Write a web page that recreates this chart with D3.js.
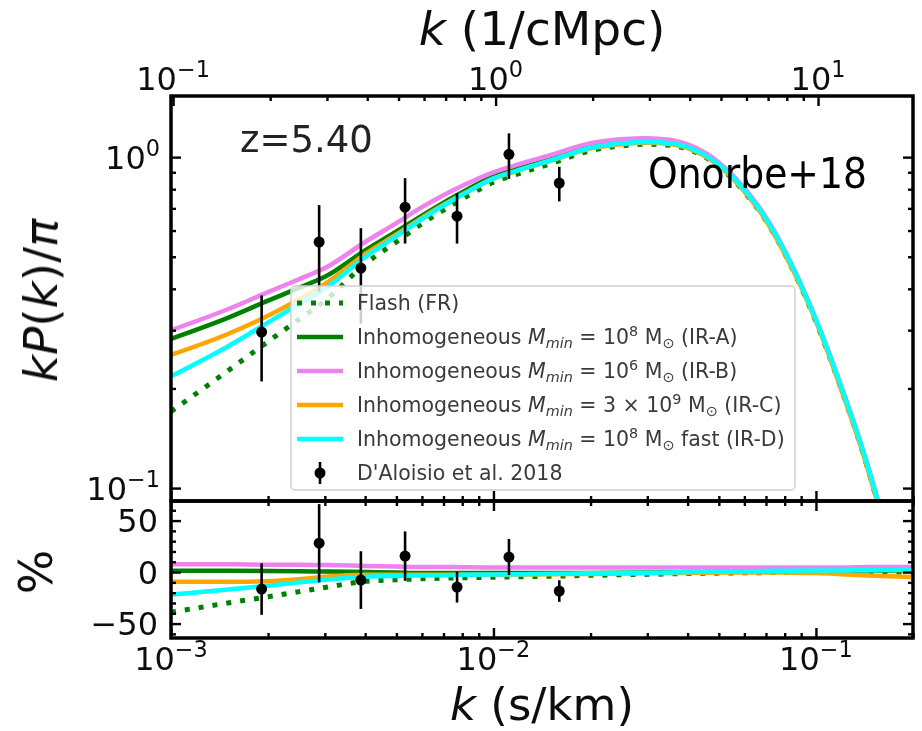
<!DOCTYPE html>
<html>
<head>
<meta charset="utf-8">
<script src="https://cdn.jsdelivr.net/npm/d3@7"></script>
<style>
  html, body { margin: 0; padding: 0; background: #fff; }
  svg { display: block; }
  text { font-family: "DejaVu Sans", sans-serif; }
</style>
</head>
<body>
<div id="chart"></div>
<script>
// Wavenumber grid (s/km) on which the model curves are tabulated
const kGrid = [1e-3, 1.5e-3, 2e-3, 2.5e-3, 3e-3, 4e-3, 5e-3, 6e-3, 7e-3, 8e-3,
  1e-2, 1.2e-2, 1.5e-2, 2e-2, 2.5e-2, 3e-2, 3.5e-2, 4e-2, 5e-2, 6e-2,
  7e-2, 8e-2, 0.1, 0.12, 0.14, 0.16, 0.18, 0.2];

// kP(k)/pi for each reionization model
const kpFR  = [0.1703, 0.226, 0.2772, 0.324, 0.3677, 0.4756, 0.5541, 0.6287, 0.692, 0.7475,
  0.8392, 0.8916, 0.9538, 1.0461, 1.0816, 1.0936, 1.0868, 1.0568, 0.9367, 0.7841,
  0.6424, 0.5117, 0.318, 0.1982, 0.1273, 0.0818, 0.0544, 0.0379];
const kpIRA = [0.2824, 0.3267, 0.3683, 0.4032, 0.4348, 0.5226, 0.596, 0.6657, 0.7288, 0.7831,
  0.8746, 0.9244, 0.9836, 1.0719, 1.1038, 1.1138, 1.1044, 1.0728, 0.949, 0.7936,
  0.6507, 0.5183, 0.3218, 0.2009, 0.1292, 0.0831, 0.0553, 0.0385];
const kpIRB = [0.300, 0.347, 0.391, 0.428, 0.462, 0.554, 0.632, 0.706, 0.767, 0.819,
  0.900, 0.952, 1.013, 1.101, 1.132, 1.140, 1.128, 1.093, 0.964, 0.805,
  0.658, 0.523, 0.324, 0.202, 0.130, 0.0837, 0.0558, 0.0388];
const kpIRC = [0.2526, 0.2921, 0.3319, 0.372, 0.4131, 0.5095, 0.584, 0.6556, 0.7178, 0.7712,
  0.8612, 0.9121, 0.9736, 1.0611, 1.0938, 1.1048, 1.0955, 1.0642, 0.9414, 0.7873,
  0.6437, 0.5107, 0.3195, 0.1973, 0.127, 0.0816, 0.0545, 0.0379];
const kpIRD = [0.2177, 0.2679, 0.3166, 0.36, 0.4002, 0.4991, 0.5768, 0.6502, 0.7141, 0.7696,
  0.863, 0.915, 0.9767, 1.0677, 1.1016, 1.1116, 1.1033, 1.0728, 0.9499, 0.796,
  0.6527, 0.5198, 0.3227, 0.2013, 0.1296, 0.0833, 0.0556, 0.0387];

// Percent difference of each model (lower panel)
const pctFR  = [-39, -30, -24, -19, -15, -9, -7.5, -6.5, -6, -5.5, -5, -4.5, -4, -3.2, -2.6,
  -2.2, -1.8, -1.5, -1, -0.7, -0.5, -0.3, 0, 0, 0, 0, 0, 0];
const pctIRA = [1.2, 1.2, 1.0, 0.8, 0.5, 0, -0.5, -1, -1, -1, -1, -1, -1, -0.8, -0.6,
  -0.4, -0.2, 0, 0.3, 0.5, 0.8, 1, 1.2, 1.4, 1.5, 1.6, 1.6, 1.5];
const pctIRB = [7.5, 7.5, 7.2, 7, 6.8, 6, 5.5, 5, 5, 4.8, 4.5, 4.5, 4.5, 4.5, 4.5,
  4.5, 4.5, 4.5, 4.5, 4.5, 4.5, 4.5, 4.5, 4.5, 4.8, 5, 5, 5];
const pctIRC = [-9.5, -9.5, -9, -7, -4.5, -2.5, -2.5, -2.5, -2.5, -2.5, -2.5, -2.3, -2, -1.8, -1.5,
  -1.2, -1, -0.8, -0.5, -0.3, -0.3, -0.5, -1, -2, -3, -3.8, -4.3, -5];
const pctIRD = [-22, -17, -13.2, -10, -7.5, -4.5, -3.7, -3.3, -3, -2.7, -2.3, -2, -1.7, -1.2, -0.8,
  -0.6, -0.3, 0, 0.4, 0.8, 1.1, 1.3, 1.5, 1.6, 1.8, 1.9, 2, 2];

// D'Aloisio et al. 2018 measurements
const obsK      = [1.91e-3, 2.88e-3, 3.88e-3, 5.32e-3, 7.71e-3, 1.117e-2, 1.60e-2];
const obsKP     = [0.296, 0.554, 0.462, 0.706, 0.663, 1.02, 0.835];
const obsErr    = [0.086, 0.162, 0.148, 0.158, 0.115, 0.16, 0.10];
const obsPct    = [-16.5, 28, -7.8, 15.5, -14.6, 14.6, -18.4];
const obsPctErr = [25, 38, 28, 24, 15, 17.5, 10.5];

// Axis tick labels
const bottomTickLabels = [[1e-3, "−3"], [1e-2, "−2"], [1e-1, "−1"]];
const topTickLabels    = [[1e-1, "−1"], [1e0, "0"], [1e1, "1"]];
const leftTickLabels   = [[1e0, "0"], [1e-1, "−1"]];
const pctTickLabels    = [[50, "50"], [0, "0"], [-50, "−50"]];

const series = [
  { name: "Flash (FR)", kp: kpFR, pct: pctFR, color: "green", dash: "5,9" },
  { name: "IR-A", mass: ["10", "8", ""], kp: kpIRA, pct: pctIRA, color: "green" },
  { name: "IR-B", mass: ["10", "6", ""], kp: kpIRB, pct: pctIRB, color: "violet" },
  { name: "IR-C", mass: ["3 × 10", "9", ""], kp: kpIRC, pct: pctIRC, color: "orange" },
  { name: "IR-D", mass: ["10", "8", " fast"], kp: kpIRD, pct: pctIRD, color: "cyan" }
];

const W = 922, H = 731;
const L = 171, R = 913, T = 96, MID = 501, B = 638;

const svg = d3.select("#chart").append("svg").attr("width", W).attr("height", H);
const defs = svg.append("defs");
defs.append("filter").attr("id", "soft").attr("x", "-5%").attr("y", "-5%").attr("width", "110%").attr("height", "110%")
  .append("feGaussianBlur").attr("stdDeviation", 0.75);
defs.append("clipPath").attr("id", "clipMain").append("rect")
  .attr("x", L).attr("y", T).attr("width", R - L).attr("height", MID - T);
defs.append("clipPath").attr("id", "clipLow").append("rect")
  .attr("x", L).attr("y", MID).attr("width", R - L).attr("height", B - MID);

const xB = d3.scaleLog().domain([1e-3, 0.2]).range([L, R]);
const xT = d3.scaleLog().domain([0.0985, 19.7]).range([L, R]);
const yM = d3.scaleLog().domain([0.0914, 1.53]).range([MID, T]);
const yL = d3.scaleLinear().domain([-64, 69]).range([B, MID]);

const fig = svg.append("g").attr("filter", "url(#soft)");

// ---- model curves ----
const lineMain = d3.line().x(d => xB(d[0])).y(d => yM(d[1])).curve(d3.curveMonotoneX);
const lineLow = d3.line().x(d => xB(d[0])).y(d => yL(d[1])).curve(d3.curveMonotoneX);
const gMain = fig.append("g").attr("clip-path", "url(#clipMain)");
const gLow = fig.append("g").attr("clip-path", "url(#clipLow)");

series.forEach(s => {
  const top = kGrid.map((k, i) => [k, s.kp[i]]);
  const low = kGrid.map((k, i) => [k, s.pct[i]]);
  [[gMain, lineMain, top], [gLow, lineLow, low]].forEach(([g, ln, d]) => {
    g.append("path").attr("d", ln(d)).attr("fill", "none")
      .attr("stroke", s.color).attr("stroke-width", s.dash ? 5 : 4.5)
      .attr("stroke-dasharray", s.dash || null)
      .attr("stroke-linejoin", "round");
  });
});

// ---- measurements ----
function drawPoints(g, xs, ys, es, y) {
  xs.forEach((k, i) => {
    g.append("line").attr("x1", xB(k)).attr("x2", xB(k))
      .attr("y1", y(ys[i] - es[i])).attr("y2", y(ys[i] + es[i]))
      .attr("stroke", "#000").attr("stroke-width", 2.6);
    g.append("circle").attr("cx", xB(k)).attr("cy", y(ys[i])).attr("r", 5.5).attr("fill", "#000");
  });
}
drawPoints(gMain, obsK, obsKP, obsErr, yM);
drawPoints(gLow, obsK, obsPct, obsPctErr, yL);

// ---- ticks ----
function splitLog(scale) {
  const t = scale.ticks();
  const isMajor = v => Math.abs(Math.log10(v) - Math.round(Math.log10(v))) < 1e-6;
  return { major: t.filter(isMajor), minor: t.filter(v => !isMajor(v)) };
}
function tickSet(axisFn, scale, transform, values, size) {
  const g = fig.append("g").attr("transform", transform)
    .call(axisFn(scale).tickValues(values).tickSize(size).tickFormat(""));
  g.select(".domain").remove();
  g.selectAll(".tick line").attr("stroke", "#000").attr("stroke-width", 2.4);
}
const bx = splitLog(xB), tx = splitLog(xT), ly = splitLog(yM);
const lowMajor = [-50, 0, 50];
const lowMinor = d3.range(-60, 70, 10).filter(v => !lowMajor.includes(v));

// main panel
tickSet(d3.axisTop, xT, `translate(0,${T})`, tx.major, -10);
tickSet(d3.axisTop, xT, `translate(0,${T})`, tx.minor, -5);
tickSet(d3.axisBottom, xB, `translate(0,${MID})`, bx.major, -10);
tickSet(d3.axisBottom, xB, `translate(0,${MID})`, bx.minor, -5);
tickSet(d3.axisLeft, yM, `translate(${L},0)`, ly.major, -10);
tickSet(d3.axisLeft, yM, `translate(${L},0)`, ly.minor, -5);
tickSet(d3.axisRight, yM, `translate(${R},0)`, ly.major, -10);
tickSet(d3.axisRight, yM, `translate(${R},0)`, ly.minor, -5);
// ratio panel
tickSet(d3.axisTop, xB, `translate(0,${MID})`, bx.major, -10);
tickSet(d3.axisTop, xB, `translate(0,${MID})`, bx.minor, -5);
tickSet(d3.axisBottom, xB, `translate(0,${B})`, bx.major, -10);
tickSet(d3.axisBottom, xB, `translate(0,${B})`, bx.minor, -5);
tickSet(d3.axisLeft, yL, `translate(${L},0)`, lowMajor, -10);
tickSet(d3.axisLeft, yL, `translate(${L},0)`, lowMinor, -5);
tickSet(d3.axisRight, yL, `translate(${R},0)`, lowMajor, -10);
tickSet(d3.axisRight, yL, `translate(${R},0)`, lowMinor, -5);

// frames
[[T, MID], [MID, B]].forEach(([a, b]) => {
  fig.append("rect").attr("x", L).attr("y", a).attr("width", R - L).attr("height", b - a)
    .attr("fill", "none").attr("stroke", "#000").attr("stroke-width", 3.5);
});

// ---- tick labels ----
const TF = 32;
function powLabel(x, y, exp, anchor) {
  const t = fig.append("text").attr("x", x).attr("y", y).attr("font-size", TF)
    .attr("text-anchor", anchor).attr("fill", "#111");
  t.append("tspan").text("10");
  t.append("tspan").attr("dy", -13).attr("font-size", TF * 0.7).text(exp);
}
bottomTickLabels.forEach(([v, e]) => powLabel(xB(v), 670, e, "middle"));
topTickLabels.forEach(([v, e]) => powLabel(xT(v), 90, e, "middle"));
leftTickLabels.forEach(([v, e]) => powLabel(160, yM(v) + 12, e, "end"));
pctTickLabels.forEach(([v, s]) => {
  fig.append("text").attr("x", 158).attr("y", yL(v) + 11.5).attr("font-size", TF)
    .attr("text-anchor", "end").attr("fill", "#111").text(s);
});

// ---- axis titles ----
function kTitle(x, y, unit, size) {
  const t = fig.append("text").attr("x", x).attr("y", y).attr("font-size", size)
    .attr("text-anchor", "middle").attr("fill", "#111");
  t.append("tspan").attr("font-style", "italic").text("k");
  t.append("tspan").text(" (" + unit + ")");
}
kTitle((L + R) / 2, 45, "1/cMpc", 47);
kTitle((L + R) / 2, 720, "s/km", 45);

const AF = 47;
const yt = fig.append("text").attr("transform", `translate(57,${(T + MID) / 2 + 2}) rotate(-90)`)
  .attr("font-size", AF).attr("text-anchor", "middle").attr("fill", "#111");
yt.append("tspan").attr("font-style", "italic").text("kP");
yt.append("tspan").text("(");
yt.append("tspan").attr("font-style", "italic").text("k");
yt.append("tspan").text(")/");
yt.append("tspan").attr("font-style", "italic").text("π");

fig.append("text").attr("transform", `translate(52,${yL(0)}) rotate(-90)`)
  .attr("font-size", AF).attr("text-anchor", "middle").attr("fill", "#111").text("%");

fig.append("text").attr("x", 240).attr("y", 152).attr("font-size", 37).attr("fill", "#222").text("z=5.40");

// ---- legend ----
const leg = fig.append("g");
leg.append("rect").attr("x", 291).attr("y", 286).attr("width", 504).attr("height", 204).attr("rx", 4)
  .attr("fill", "#fff").attr("fill-opacity", 0.8).attr("stroke", "#d0d0d0").attr("stroke-width", 1.5);
const rowY = i => 303 + i * 34;
const LF = 20.5;
series.forEach((s, i) => {
  leg.append("line").attr("x1", 297).attr("x2", 343).attr("y1", rowY(i)).attr("y2", rowY(i))
    .attr("stroke", s.color).attr("stroke-width", s.dash ? 5 : 4.5).attr("stroke-dasharray", s.dash || null);
  const t = leg.append("text").attr("x", 357).attr("y", rowY(i) + 7).attr("font-size", LF).attr("fill", "#3a3a3a");
  if (!s.mass) { t.text(s.name); return; }
  t.append("tspan").text("Inhomogeneous ");
  t.append("tspan").attr("font-style", "italic").text("M");
  t.append("tspan").attr("font-style", "italic").attr("font-size", LF * 0.7).attr("dy", 4).text("min");
  t.append("tspan").attr("dy", -4).text(" = " + s.mass[0]);
  t.append("tspan").attr("font-size", LF * 0.7).attr("dy", -8).text(s.mass[1]);
  t.append("tspan").attr("dy", 8).text(" M");
  t.append("tspan").attr("font-size", LF * 0.7).attr("dy", 4).text("⊙");
  t.append("tspan").attr("dy", -4).text(s.mass[2] + " (" + s.name + ")");
});
const dy = rowY(5);
leg.append("line").attr("x1", 320).attr("x2", 320).attr("y1", dy - 11).attr("y2", dy + 11)
  .attr("stroke", "#000").attr("stroke-width", 2.6);
leg.append("circle").attr("cx", 320).attr("cy", dy).attr("r", 5.5).attr("fill", "#000");
leg.append("text").attr("x", 357).attr("y", dy + 7).attr("font-size", LF).attr("fill", "#3a3a3a")
  .text("D'Aloisio et al. 2018");

// ---- annotation ----
svg.append("text").attr("x", 648).attr("y", 188).attr("font-family", "Lato, 'Open Sans', sans-serif")
  .attr("font-size", 42).attr("textLength", 219).attr("lengthAdjust", "spacingAndGlyphs")
  .attr("fill", "#000").text("Onorbe+18");
</script>
</body>
</html>
